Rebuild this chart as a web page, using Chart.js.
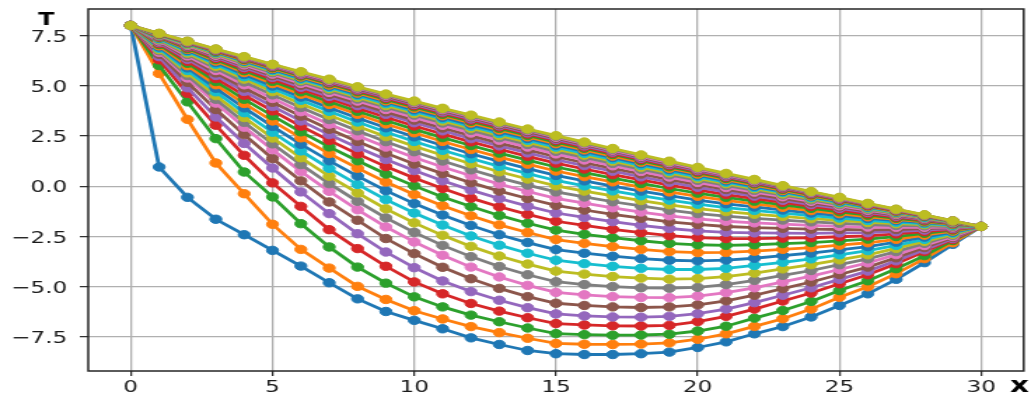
<!DOCTYPE html>
<html>
<head>
<meta charset="utf-8">
<title>T(x) iterations</title>
<script src="https://cdn.jsdelivr.net/npm/chart.js@4.4.1/dist/chart.umd.min.js"></script>
<style>
  html, body { margin: 0; padding: 0; background: #fff; overflow: hidden; }
  /* the figure is drawn narrow and widened sideways */
  #wrap { width: 736px; height: 394px; transform: scaleX(1.4008); transform-origin: 0 0; }
</style>
</head>
<body>
<div id="wrap"><canvas id="chart" width="736" height="394"></canvas></div>
<script>
// grid positions and axis ticks
const xs = [0, 1, 2, 3, 4, 5, 6, 7, 8, 9, 10, 11, 12, 13, 14, 15, 16, 17, 18, 19, 20, 21, 22, 23, 24, 25, 26, 27, 28, 29, 30];
const xTicks = [0, 5, 10, 15, 20, 25, 30];
const yTicks = [-7.5, -5, -2.5, 0, 2.5, 5, 7.5];
const xTitle = 'x';
const yTitle = 'T';

// matplotlib tab10 cycle
const palette = ['#1f77b4', '#ff7f0e', '#2ca02c', '#d62728', '#9467bd', '#8c564b', '#e377c2', '#7f7f7f', '#bcbd22', '#17becf'];

// temperature profiles, one per iteration
const t0 = [8, 0.96, -0.55, -1.64, -2.41, -3.19, -3.97, -4.80, -5.60, -6.23, -6.67, -7.09, -7.54, -7.87, -8.17, -8.33, -8.37, -8.37, -8.33, -8.25, -8.02, -7.74, -7.34, -6.98, -6.5, -5.93, -5.35, -4.63, -3.8, -2.89, -2];
const t1 = [8, 5.61, 3.33, 1.16, -0.37, -1.89, -3.14, -4.07, -4.98, -5.63, -6.19, -6.6, -6.98, -7.28, -7.56, -7.82, -7.86, -7.87, -7.85, -7.79, -7.61, -7.34, -6.97, -6.59, -6.11, -5.52, -5.0, -4.35, -3.6, -2.81, -2];
const t2 = [8, 6.01, 4.2, 2.37, 0.71, -0.53, -1.86, -3.02, -4.02, -4.82, -5.5, -6.0, -6.41, -6.74, -7.05, -7.33, -7.38, -7.41, -7.4, -7.36, -7.2, -6.96, -6.56, -6.18, -5.73, -5.19, -4.7, -4.1, -3.45, -2.7, -2];
const t3 = [8, 6.29, 4.62, 3.04, 1.54, 0.17, -1.0, -2.16, -3.1, -3.98, -4.76, -5.35, -5.83, -6.21, -6.54, -6.83, -6.9, -6.94, -6.95, -6.92, -6.73, -6.47, -6.11, -5.71, -5.31, -4.85, -4.4, -3.85, -3.25, -2.65, -2];
const t4 = [8, 6.45, 4.9, 3.45, 2.13, 0.91, -0.28, -1.36, -2.36, -3.27, -4.05, -4.71, -5.24, -5.67, -6.04, -6.35, -6.45, -6.5, -6.51, -6.47, -6.34, -6.11, -5.79, -5.42, -5.05, -4.63, -4.22, -3.71, -3.16, -2.6, -2];
const t5 = [8, 6.57, 5.17, 3.82, 2.57, 1.38, 0.27, -0.78, -1.69, -2.6, -3.35, -4.03, -4.6, -5.08, -5.49, -5.82, -5.93, -6.0, -6.03, -6.0, -5.9, -5.7, -5.42, -5.09, -4.76, -4.39, -4.02, -3.56, -3.05, -2.55, -2];
const t6 = [8, 6.67, 5.39, 4.14, 2.94, 1.82, 0.74, -0.25, -1.17, -2.02, -2.77, -3.43, -4.02, -4.51, -4.93, -5.28, -5.4, -5.49, -5.53, -5.54, -5.46, -5.29, -5.05, -4.76, -4.47, -4.14, -3.81, -3.4, -2.95, -2.5, -2];
const t7 = [8, 6.74, 5.51, 4.33, 3.18, 2.11, 1.08, 0.13, -0.75, -1.57, -2.29, -2.94, -3.5, -3.99, -4.4, -4.75, -4.89, -4.99, -5.05, -5.07, -5.03, -4.89, -4.68, -4.43, -4.19, -3.9, -3.61, -3.25, -2.84, -2.44, -2];
const t8 = [8, 6.8, 5.64, 4.51, 3.42, 2.4, 1.42, 0.5, -0.33, -1.12, -1.82, -2.44, -2.99, -3.47, -3.87, -4.22, -4.37, -4.49, -4.57, -4.62, -4.59, -4.49, -4.32, -4.11, -3.9, -3.66, -3.41, -3.09, -2.74, -2.39, -2];
const t9 = [8, 6.87, 5.76, 4.7, 3.66, 2.69, 1.76, 0.89, 0.09, -0.66, -1.33, -1.93, -2.47, -2.93, -3.33, -3.68, -3.85, -3.98, -4.08, -4.14, -4.14, -4.08, -3.94, -3.78, -3.61, -3.41, -3.2, -2.94, -2.64, -2.33, -2];
const t10 = [8, 6.93, 5.89, 4.88, 3.9, 2.98, 2.09, 1.27, 0.51, -0.22, -0.86, -1.43, -1.95, -2.41, -2.8, -3.15, -3.33, -3.48, -3.6, -3.68, -3.71, -3.67, -3.58, -3.45, -3.32, -3.16, -3.0, -2.78, -2.53, -2.28, -2];
const t11 = [8, 6.99, 6.0, 5.05, 4.12, 3.25, 2.41, 1.63, 0.9, 0.21, -0.41, -0.97, -1.47, -1.92, -2.3, -2.65, -2.84, -3.0, -3.14, -3.25, -3.3, -3.29, -3.23, -3.14, -3.05, -2.93, -2.81, -2.64, -2.43, -2.23, -2];
const t12 = [8, 7.05, 6.12, 5.21, 4.33, 3.51, 2.71, 1.96, 1.27, 0.61, 0.02, -0.53, -1.01, -1.45, -1.84, -2.18, -2.39, -2.56, -2.71, -2.84, -2.91, -2.94, -2.91, -2.85, -2.8, -2.72, -2.63, -2.5, -2.34, -2.18, -2];
const t13 = [8, 7.1, 6.22, 5.36, 4.53, 3.75, 2.99, 2.28, 1.61, 0.98, 0.41, -0.11, -0.59, -1.02, -1.4, -1.74, -1.95, -2.14, -2.31, -2.46, -2.55, -2.6, -2.6, -2.58, -2.56, -2.51, -2.47, -2.37, -2.26, -2.14, -2];
const t14 = [8, 7.15, 6.32, 5.51, 4.72, 3.97, 3.25, 2.57, 1.93, 1.33, 0.78, 0.27, -0.19, -0.61, -0.99, -1.33, -1.55, -1.76, -1.94, -2.1, -2.22, -2.29, -2.32, -2.33, -2.34, -2.32, -2.31, -2.26, -2.18, -2.1, -2];
const t15 = [8, 7.19, 6.4, 5.64, 4.89, 4.18, 3.49, 2.84, 2.23, 1.65, 1.11, 0.63, 0.18, -0.24, -0.61, -0.95, -1.18, -1.4, -1.59, -1.77, -1.9, -2.0, -2.06, -2.09, -2.13, -2.15, -2.17, -2.15, -2.1, -2.06, -2];
const t16 = [8, 7.23, 6.49, 5.76, 5.05, 4.37, 3.71, 3.09, 2.51, 1.95, 1.43, 0.96, 0.52, 0.11, -0.26, -0.6, -0.84, -1.07, -1.28, -1.47, -1.62, -1.74, -1.82, -1.88, -1.94, -1.99, -2.03, -2.04, -2.04, -2.03, -2];
const t17 = [8, 7.27, 6.56, 5.87, 5.19, 4.55, 3.92, 3.32, 2.76, 2.22, 1.72, 1.26, 0.82, 0.42, 0.06, -0.28, -0.53, -0.77, -0.98, -1.19, -1.36, -1.49, -1.6, -1.68, -1.77, -1.84, -1.91, -1.95, -1.97, -2.0, -2];
const t18 = [8, 7.31, 6.63, 5.97, 5.33, 4.71, 4.11, 3.54, 2.99, 2.47, 1.99, 1.54, 1.12, 0.72, 0.36, 0.02, -0.24, -0.48, -0.71, -0.92, -1.11, -1.26, -1.39, -1.5, -1.61, -1.7, -1.8, -1.86, -1.91, -1.96, -2];
const t19 = [8, 7.34, 6.7, 6.07, 5.45, 4.86, 4.28, 3.73, 3.2, 2.7, 2.23, 1.79, 1.38, 0.99, 0.63, 0.29, 0.02, -0.23, -0.47, -0.69, -0.89, -1.06, -1.2, -1.33, -1.46, -1.58, -1.7, -1.79, -1.86, -1.94, -2];
const t20 = [8, 7.37, 6.76, 6.15, 5.56, 4.99, 4.44, 3.91, 3.4, 2.91, 2.46, 2.03, 1.62, 1.24, 0.88, 0.54, 0.27, 0.01, -0.24, -0.47, -0.69, -0.87, -1.03, -1.18, -1.33, -1.46, -1.6, -1.71, -1.81, -1.91, -2];
const t21 = [8, 7.4, 6.81, 6.23, 5.66, 5.11, 4.58, 4.07, 3.58, 3.1, 2.66, 2.23, 1.83, 1.45, 1.1, 0.76, 0.48, 0.22, -0.04, -0.28, -0.5, -0.7, -0.88, -1.05, -1.21, -1.36, -1.52, -1.65, -1.77, -1.89, -2];
const t22 = [8, 7.42, 6.85, 6.3, 5.75, 5.22, 4.7, 4.21, 3.73, 3.27, 2.83, 2.42, 2.03, 1.65, 1.3, 0.96, 0.68, 0.41, 0.14, -0.11, -0.34, -0.55, -0.74, -0.92, -1.1, -1.27, -1.44, -1.59, -1.73, -1.87, -2];
const t23 = [8, 7.44, 6.9, 6.36, 5.83, 5.33, 4.83, 4.35, 3.88, 3.43, 3.0, 2.6, 2.21, 1.84, 1.49, 1.15, 0.86, 0.58, 0.32, 0.06, -0.18, -0.41, -0.61, -0.8, -1.0, -1.18, -1.37, -1.54, -1.69, -1.85, -2];
const t24 = [8, 7.46, 6.94, 6.42, 5.91, 5.42, 4.93, 4.47, 4.01, 3.58, 3.16, 2.76, 2.37, 2.01, 1.66, 1.32, 1.03, 0.75, 0.47, 0.2, -0.05, -0.28, -0.49, -0.7, -0.91, -1.1, -1.3, -1.49, -1.66, -1.83, -2];
const t25 = [8, 7.48, 6.97, 6.47, 5.98, 5.5, 5.03, 4.57, 4.13, 3.7, 3.29, 2.9, 2.52, 2.15, 1.81, 1.47, 1.17, 0.89, 0.61, 0.33, 0.08, -0.16, -0.39, -0.61, -0.83, -1.03, -1.25, -1.44, -1.63, -1.82, -2];
const t26 = [8, 7.5, 7.01, 6.52, 6.04, 5.58, 5.12, 4.67, 4.24, 3.82, 3.42, 3.03, 2.65, 2.29, 1.95, 1.61, 1.31, 1.02, 0.74, 0.46, 0.19, -0.06, -0.29, -0.52, -0.75, -0.97, -1.19, -1.4, -1.6, -1.8, -2];
const t27 = [8, 7.51, 7.04, 6.57, 6.1, 5.65, 5.2, 4.77, 4.34, 3.93, 3.54, 3.15, 2.78, 2.42, 2.08, 1.74, 1.44, 1.14, 0.85, 0.57, 0.3, 0.04, -0.2, -0.44, -0.68, -0.91, -1.14, -1.37, -1.58, -1.79, -2];
const t28 = [8, 7.53, 7.06, 6.6, 6.15, 5.71, 5.27, 4.85, 4.43, 4.02, 3.63, 3.25, 2.89, 2.53, 2.19, 1.85, 1.55, 1.25, 0.95, 0.67, 0.39, 0.13, -0.12, -0.38, -0.62, -0.86, -1.1, -1.33, -1.56, -1.78, -2];
const t29 = [8, 7.54, 7.09, 6.64, 6.2, 5.76, 5.33, 4.92, 4.51, 4.11, 3.72, 3.35, 2.98, 2.63, 2.29, 1.95, 1.64, 1.34, 1.04, 0.75, 0.47, 0.2, -0.06, -0.31, -0.57, -0.82, -1.07, -1.3, -1.54, -1.77, -2];
const t30 = [8, 7.55, 7.11, 6.67, 6.23, 5.81, 5.39, 4.98, 4.58, 4.19, 3.8, 3.43, 3.07, 2.72, 2.38, 2.04, 1.73, 1.43, 1.13, 0.83, 0.55, 0.27, 0.0, -0.26, -0.52, -0.77, -1.03, -1.28, -1.52, -1.76, -2];
const t31 = [8, 7.56, 7.13, 6.7, 6.27, 5.86, 5.44, 5.04, 4.64, 4.25, 3.88, 3.51, 3.15, 2.8, 2.46, 2.12, 1.81, 1.5, 1.2, 0.9, 0.61, 0.33, 0.06, -0.21, -0.48, -0.73, -1.0, -1.26, -1.5, -1.76, -2];
const t32 = [8, 7.57, 7.14, 6.72, 6.31, 5.9, 5.49, 5.1, 4.7, 4.32, 3.95, 3.58, 3.23, 2.88, 2.53, 2.2, 1.89, 1.58, 1.27, 0.97, 0.68, 0.39, 0.12, -0.16, -0.43, -0.7, -0.97, -1.23, -1.49, -1.75, -2];
const t33 = [8, 7.58, 7.16, 6.75, 6.34, 5.94, 5.54, 5.15, 4.76, 4.38, 4.01, 3.65, 3.29, 2.95, 2.6, 2.27, 1.95, 1.64, 1.34, 1.03, 0.73, 0.45, 0.17, -0.12, -0.39, -0.67, -0.95, -1.21, -1.47, -1.74, -2];
const t34 = [8, 7.59, 7.17, 6.77, 6.37, 5.97, 5.57, 5.19, 4.8, 4.43, 4.07, 3.7, 3.35, 3.01, 2.66, 2.33, 2.01, 1.7, 1.39, 1.08, 0.78, 0.49, 0.2, -0.08, -0.36, -0.64, -0.92, -1.19, -1.46, -1.73, -2];
const t35 = [8, 7.59, 7.19, 6.79, 6.39, 6.0, 5.61, 5.23, 4.85, 4.48, 4.12, 3.76, 3.41, 3.06, 2.72, 2.39, 2.07, 1.76, 1.45, 1.13, 0.83, 0.54, 0.24, -0.04, -0.33, -0.61, -0.9, -1.18, -1.45, -1.73, -2];
const t36 = [8, 7.6, 7.2, 6.81, 6.42, 6.03, 5.64, 5.27, 4.89, 4.53, 4.17, 3.81, 3.46, 3.12, 2.78, 2.44, 2.12, 1.8, 1.49, 1.18, 0.87, 0.57, 0.28, -0.01, -0.3, -0.59, -0.88, -1.16, -1.44, -1.72, -2];
const t37 = [8, 7.6, 7.21, 6.82, 6.43, 6.05, 5.67, 5.3, 4.92, 4.56, 4.2, 3.85, 3.5, 3.15, 2.81, 2.48, 2.16, 1.84, 1.53, 1.22, 0.91, 0.6, 0.31, 0.01, -0.28, -0.57, -0.87, -1.15, -1.43, -1.72, -2];
const t38 = [8, 7.61, 7.22, 6.83, 6.45, 6.07, 5.7, 5.33, 4.95, 4.59, 4.24, 3.88, 3.54, 3.2, 2.85, 2.52, 2.2, 1.88, 1.56, 1.25, 0.94, 0.64, 0.34, 0.03, -0.26, -0.55, -0.85, -1.14, -1.42, -1.72, -2];

const profiles = [t0, t1, t2, t3, t4, t5, t6, t7, t8, t9, t10, t11, t12, t13, t14, t15, t16, t17, t18, t19,
  t20, t21, t22, t23, t24, t25, t26, t27, t28, t29, t30, t31, t32, t33, t34, t35, t36, t37, t38];

const labelFont = '16.5px "DejaVu Sans"';
const labelWidth75 = 26.2;   // width of "7.5", sets the label squeeze

function yLabel(v) {
  return (v < 0 ? '\u2212' : '') + Math.abs(v).toFixed(1);
}

// box around the axes, tick labels and the two axis letters
const frameAndLabels = {
  id: 'frameAndLabels',
  afterDatasetsDraw(chart) {
    const { ctx, chartArea: a } = chart;
    ctx.save();
    ctx.strokeStyle = '#262626';
    ctx.lineWidth = 1.5;
    ctx.strokeRect(a.left, a.top, a.right - a.left, a.bottom - a.top);
    ctx.restore();
  },
  afterDraw(chart) {
    const { ctx, scales } = chart;
    ctx.save();
    ctx.fillStyle = '#1a1a1a';
    ctx.font = labelFont;
    const fx = labelWidth75 / ctx.measureText('7.5').width;

    ctx.textBaseline = 'alphabetic';
    ctx.textAlign = 'right';
    yTicks.forEach(v => {
      const py = scales.y.getPixelForValue(v);
      ctx.save();
      ctx.translate(48, py + 6);
      ctx.scale(fx, 1);
      ctx.fillText(yLabel(v), 0, 0);
      ctx.restore();
    });

    ctx.textAlign = 'center';
    xTicks.forEach(v => {
      const px = scales.x.getPixelForValue(v);
      ctx.save();
      ctx.translate(px, 392);
      ctx.scale(fx, 1);
      ctx.fillText(String(v), 0, 0);
      ctx.restore();
    });

    ctx.fillStyle = '#000';
    ctx.font = 'bold 17px "DejaVu Sans"';
    ctx.textAlign = 'center';
    ctx.fillText(yTitle, 33, 25);
    ctx.font = 'bold 21px "DejaVu Sans"';
    ctx.textAlign = 'left';
    ctx.fillText(xTitle, 721, 392);
    ctx.restore();
  }
};

const datasets = profiles.map((p, k) => {
  const c = palette[k % palette.length];
  return {
    data: p.map((v, i) => ({ x: xs[i], y: v })),
    borderColor: c,
    backgroundColor: c,
    pointBackgroundColor: c,
    pointBorderColor: c,
    borderWidth: 2.8,
    pointRadius: 4.2,
    pointBorderWidth: 1,
    tension: 0,
    fill: false,
    order: profiles.length - 1 - k   // later iterations on top
  };
});

new Chart(document.getElementById('chart'), {
  type: 'line',
  data: { datasets },
  options: {
    responsive: false,
    animation: false,
    devicePixelRatio: 1,
    events: [],
    layout: { padding: { top: 9, right: 2, left: 0, bottom: 0 } },
    plugins: { legend: { display: false }, tooltip: { enabled: false } },
    scales: {
      x: {
        type: 'linear',
        min: -1.5,
        max: 31.5,
        afterBuildTicks: s => { s.ticks = xTicks.map(v => ({ value: v })); },
        afterFit: s => { s.height = 23; },
        border: { display: false },
        grid: { color: '#b0b0b0', lineWidth: 1.3, tickColor: '#262626', tickLength: 5, tickWidth: 1.2 },
        ticks: { display: false }
      },
      y: {
        type: 'linear',
        min: -9.19,
        max: 8.82,
        afterBuildTicks: s => { s.ticks = yTicks.map(v => ({ value: v })); },
        afterFit: s => { s.width = 63; },
        border: { display: false },
        grid: { color: '#b0b0b0', lineWidth: 1.3, tickColor: '#262626', tickLength: 6, tickWidth: 1.2 },
        ticks: { display: false }
      }
    }
  },
  plugins: [frameAndLabels]
});
</script>
</body>
</html>
